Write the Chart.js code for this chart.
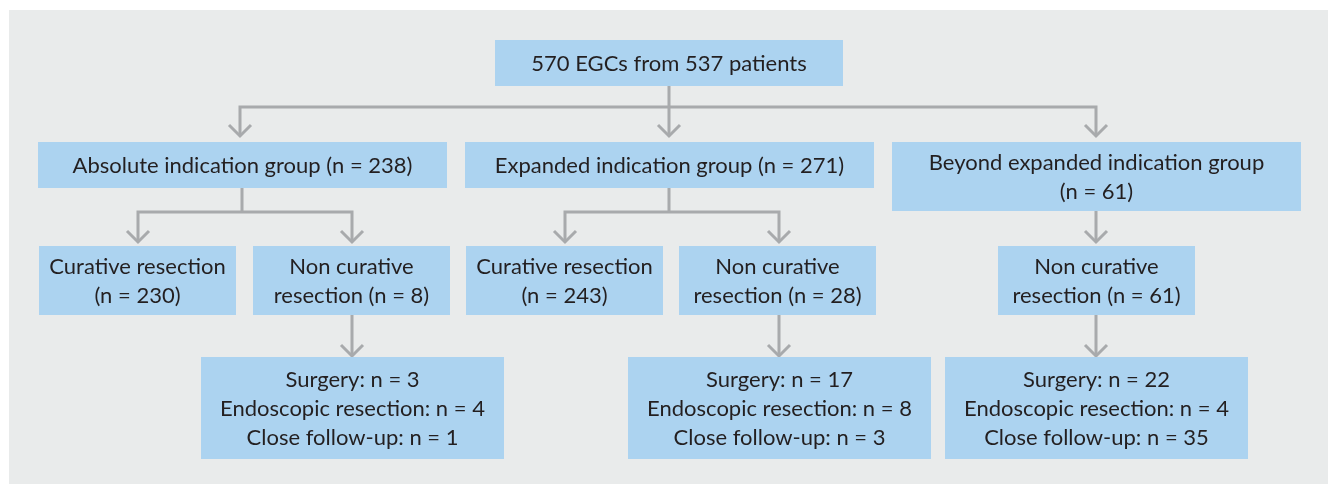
<!DOCTYPE html>
<html>
<head>
<meta charset="utf-8">
<script src="https://cdn.jsdelivr.net/npm/chart.js@4.4.1/dist/chart.umd.min.js"></script>
<style>
html,body{margin:0;padding:0;background:#ffffff;}
#wrap{width:1328px;height:484px;}
</style>
</head>
<body>
<div id="wrap"><canvas id="c" width="1328" height="484"></canvas></div>
<script>
// ---- Content (text of each node) ----
const nodeIds = ["root","abs","exp","bey","absCur","absNon","expCur","expNon","beyNon","absOut","expOut","beyOut"];
const nodeText = [
  ["570 EGCs from 537 patients"],
  ["Absolute indication group (n = 238)"],
  ["Expanded indication group (n = 271)"],
  ["Beyond expanded indication group", "(n = 61)"],
  ["Curative resection", "(n = 230)"],
  ["Non curative", "resection (n = 8)"],
  ["Curative resection", "(n = 243)"],
  ["Non curative", "resection (n = 28)"],
  ["Non curative", "resection (n = 61)"],
  ["Surgery: n = 3", "Endoscopic resection: n = 4", "Close follow-up: n = 1"],
  ["Surgery: n = 17", "Endoscopic resection: n = 8", "Close follow-up: n = 3"],
  ["Surgery: n = 22", "Endoscopic resection: n = 4", "Close follow-up: n = 35"]
];

// ---- Layout (separate from content): box extents in axis units [x0, x1, y0, y1] ----
const layout = {
  root:   [495, 843, 40, 86],
  abs:    [38, 447, 142, 188],
  exp:    [465, 874, 142, 188],
  bey:    [892, 1301, 142, 211],
  absCur: [39, 236, 246, 315],
  absNon: [253, 450, 246, 315],
  expCur: [466, 663, 246, 315],
  expNon: [679, 876, 246, 315],
  beyNon: [998, 1195, 246, 315],
  absOut: [201, 504, 357, 459],
  expOut: [628, 931, 357, 459],
  beyOut: [945, 1248, 357, 459]
};
// connector polylines (axis units)
const connectors = [
  [[669,86],[669,107]],
  [[240,136],[240,107],[1096,107],[1096,136]],
  [[669,107],[669,136]],
  [[242,188],[242,212]],
  [[138,242],[138,212],[352,212],[352,242]],
  [[669,188],[669,212]],
  [[565,242],[565,212],[779,212],[779,242]],
  [[1096,211],[1096,242]],
  [[352,315],[352,356]],
  [[779,315],[779,356]],
  [[1096,315],[1096,356]]
];
// arrow tips (axis units)
const arrowTips = [[240,136],[669,136],[1096,136],[138,242],[352,242],[565,242],[779,242],[1096,242],[352,356],[779,356],[1096,356]];

const LINE = '#a8aaac', BOX = '#acd3f0', PANEL = '#e9ebeb', TEXT = '#231f20';

const datasets = [];
connectors.forEach(c => datasets.push({
  data: c.map(p => ({x:p[0], y:p[1]})), showLine:true, borderColor:LINE, borderWidth:3,
  pointRadius:0, fill:false, tension:0, borderCapStyle:'butt', borderJoinStyle:'miter'
}));
arrowTips.forEach(t => datasets.push({
  data: [{x:t[0]-11,y:t[1]-11},{x:t[0],y:t[1]},{x:t[0]+11,y:t[1]-11}], showLine:true,
  borderColor:LINE, borderWidth:3, pointRadius:0, fill:false, tension:0,
  borderCapStyle:'butt', borderJoinStyle:'miter'
}));

const flowPlugin = {
  id:'flow',
  beforeDraw(chart){
    const {ctx, scales:{x, y}} = chart;
    ctx.save();
    ctx.fillStyle = '#ffffff';
    ctx.fillRect(0,0,chart.width,chart.height);
    const px0 = x.getPixelForValue(9), py0 = y.getPixelForValue(10);
    ctx.fillStyle = PANEL;
    ctx.fillRect(px0, py0, x.getPixelForValue(1328)-px0, y.getPixelForValue(484)-py0);
    ctx.restore();
  },
  afterDatasetsDraw(chart){
    const {ctx, scales:{x, y}} = chart;
    ctx.save();
    nodeIds.forEach((id, i) => {
      const b = layout[id];
      const X0 = x.getPixelForValue(b[0]), X1 = x.getPixelForValue(b[1]);
      const Y0 = y.getPixelForValue(b[2]), Y1 = y.getPixelForValue(b[3]);
      ctx.fillStyle = BOX;
      ctx.fillRect(X0, Y0, X1-X0, Y1-Y0);
      const lines = nodeText[i];
      const lh = 29;
      const cx = (X0+X1)/2, cy = (Y0+Y1)/2;
      ctx.fillStyle = TEXT;
      ctx.font = '22px Lato';
      ctx.textAlign = 'center';
      ctx.textBaseline = 'middle';
      lines.forEach((t, k) => {
        ctx.fillText(t, cx, cy + 1 + (k - (lines.length-1)/2)*lh);
      });
    });
    ctx.restore();
  }
};

new Chart(document.getElementById('c'), {
  type:'scatter',
  data:{datasets},
  options:{
    responsive:false, animation:false, devicePixelRatio:1,
    layout:{padding:0},
    plugins:{legend:{display:false}, tooltip:{enabled:false}},
    scales:{
      x:{type:'linear', min:0, max:1328, display:false},
      y:{type:'linear', min:0, max:484, reverse:true, display:false}
    }
  },
  plugins:[flowPlugin]
});
</script>
</body>
</html>
